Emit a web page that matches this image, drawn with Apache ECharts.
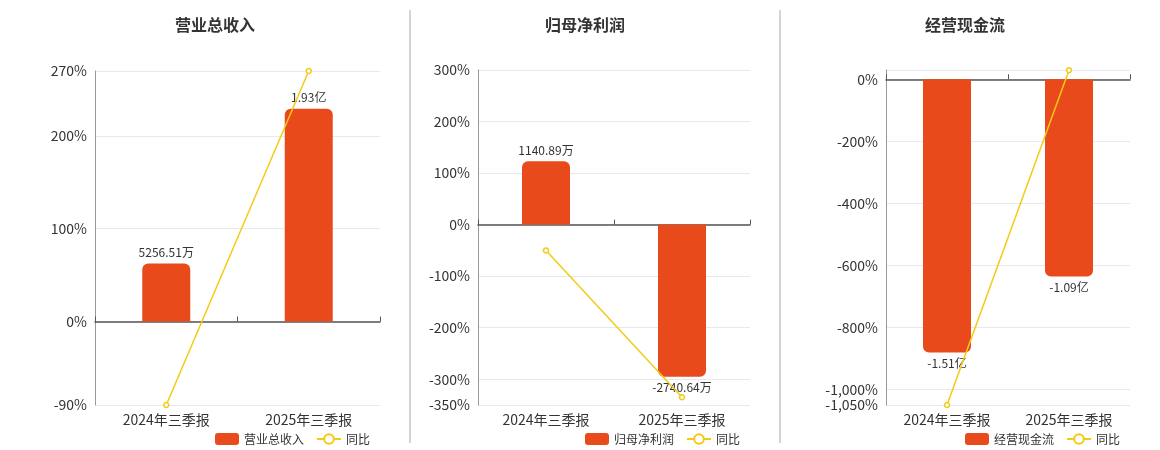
<!DOCTYPE html>
<html>
<head>
<meta charset="utf-8">
<script src="https://cdn.jsdelivr.net/npm/echarts@6/dist/echarts.min.js"></script>
<style>html,body{margin:0;background:#fff}#main{width:1160px;height:450px}</style>
</head>
<body>
<div id="main"></div>
<script>
const categories = ['2024年三季报', '2025年三季报'];
const titles = ['营业总收入', '归母净利润', '经营现金流'];
// bar values in 万元
const revenue = [5256.51, 19300];
const netProfit = [1140.89, -2740.64];
const cashFlow = [-15100, -10900];
// 同比 (%)
const revenueYoy = [-90, 270];
const profitYoy = [-50, -335];
const cashYoy = [-1050, 29];
const pctRanges = [[-90, 270], [-350, 300], [-1050, 30]];
const pctTicks = [[-90, 0, 100, 200, 270], [-350, -300, -200, -100, 0, 100, 200, 300], [-1050, -1000, -800, -600, -400, -200, 0]];
const barScale = [84.2, 9.28, 17.14]; // 万 per percent, aligns zero of both axes

const grids = [
  { left: 95, right: 780, top: 71, bottom: 45 },
  { left: 478, right: 410, top: 70, bottom: 45 },
  { left: 886, right: 30, top: 70, bottom: 45 }
];
const centers = [210, 580, 960];
const barData = [revenue, netProfit, cashFlow];
const lineData = [revenueYoy, profitYoy, cashYoy];
const BAR = '#e84a1b', LINE = '#f2cb16';

function fmtWan(v) {
  if (Math.abs(v) >= 10000) return (v / 10000).toFixed(2) + '亿';
  return v.toFixed(2) + '万';
}

const xAxis = [], yAxis = [], series = [], title = [], legend = [];
grids.forEach((g, i) => {
  title.push({ text: titles[i], left: centers[i], top: 12, textAlign: 'center',
    textStyle: { fontSize: 16, fontWeight: 'bold', color: '#333' } });
  legend.push({ left: centers[i], top: 428, textAlign: 'center', itemWidth: 24, itemHeight: 12, itemGap: 12,
    data: [titles[i] + ' ', '同比'].map(n => n), textStyle: { fontSize: 12, color: '#333' },
    formatter: n => n.trim(), orient: 'horizontal' });
  const r = pctRanges[i];
  yAxis.push({ gridIndex: i, type: 'value', min: r[0], max: r[1],
    axisLine: { show: true, lineStyle: { color: '#999' } },
    axisTick: { show: false },
    splitLine: { lineStyle: { color: '#e8e8ef' } },
    axisLabel: { customValues: pctTicks[i], color: '#333', fontSize: 14,
      formatter: v => v.toLocaleString('en-US') + '%' } });
  yAxis.push({ gridIndex: i, type: 'value', min: r[0] * barScale[i], max: r[1] * barScale[i], show: false });
  xAxis.push({ gridIndex: i, type: 'category', data: categories, position: 'bottom',
    axisLine: { onZero: false, show: false }, axisTick: { show: false },
    axisLabel: { color: '#333', fontSize: 14, margin: 8 } });
  xAxis.push({ gridIndex: i, type: 'category', data: categories,
    axisLine: { onZero: true, onZeroAxisIndex: i * 2, lineStyle: { color: '#555', width: 1.5 } },
    axisTick: { show: true, lineStyle: { color: '#555' } }, axisLabel: { show: false } });
  series.push({ name: titles[i] + ' ', type: 'bar', xAxisIndex: i * 2, yAxisIndex: i * 2 + 1,
    data: barData[i].map(v => ({ value: v,
      itemStyle: { borderRadius: v >= 0 ? [6, 6, 0, 0] : [0, 0, 6, 6] },
      label: { position: v >= 0 ? 'top' : 'bottom' } })),
    barWidth: 48, itemStyle: { color: BAR },
    label: { show: true, color: '#333', fontSize: 12, formatter: p => fmtWan(p.value) } });
  series.push({ name: '同比', type: 'line', xAxisIndex: i * 2, yAxisIndex: i * 2,
    data: lineData[i], symbol: 'circle', symbolSize: 5, z: 5,
    itemStyle: { color: '#fff', borderColor: LINE, borderWidth: 1.5 },
    lineStyle: { color: LINE, width: 1.5 } });
});

const chart = echarts.init(document.getElementById('main'));
chart.setOption({
  animation: false,
  textStyle: { fontFamily: 'Noto Sans CJK SC, sans-serif' },
  title, legend, grid: grids, xAxis, yAxis, series,
  graphic: [410, 780].map(x => ({ type: 'line', shape: { x1: x, y1: 10, x2: x, y2: 443 },
    style: { stroke: '#aaa', lineWidth: 1 } }))
});
</script>
</body>
</html>
